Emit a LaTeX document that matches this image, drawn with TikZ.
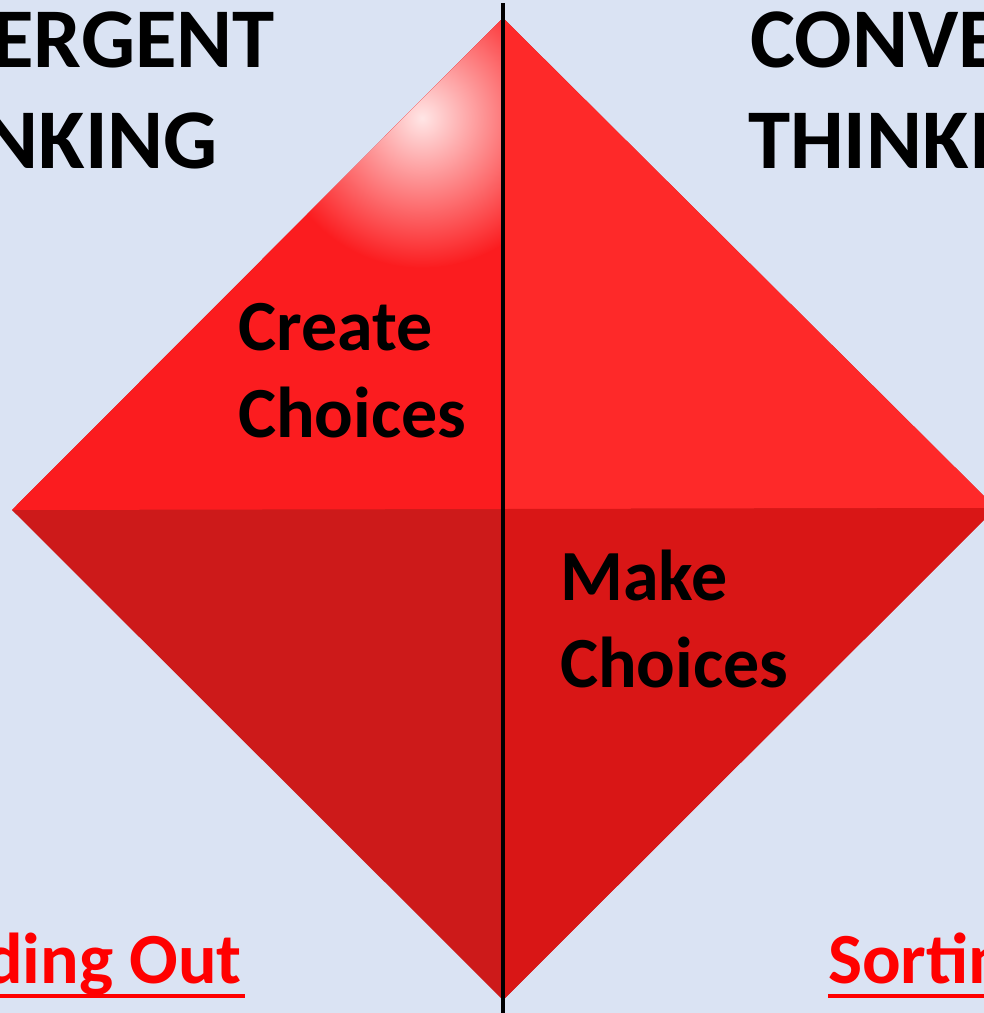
\documentclass[tikz,border=0pt]{standalone}
\usepackage{fontspec}
\setmainfont{Carlito}
\definecolor{bgblue}{HTML}{DAE3F3}
\definecolor{faceNW}{HTML}{FB1C1F}
\definecolor{faceNE}{HTML}{FE2929}
\definecolor{faceSW}{HTML}{CD1A1A}
\definecolor{faceSE}{HTML}{D91616}
\begin{document}
\begin{tikzpicture}[x=1pt,y=-1pt,
  title/.style={font=\fontsize{85}{102}\selectfont\bfseries,inner sep=0pt},
  choice/.style={font=\fontsize{72}{87}\selectfont\bfseries,inner sep=0pt},
  side/.style={font=\fontsize{72}{87}\selectfont\bfseries,text=red,inner sep=0pt}]
\useasboundingbox (0,0) rectangle (984,1013);
\clip (0,0) rectangle (984,1013);
\fill[bgblue] (0,0) rectangle (984,1013);

\coordinate (N) at (503,18);
\coordinate (W) at (12,510);
\coordinate (E) at (996,508);
\coordinate (S) at (503,1000);
\coordinate (C) at (503,509);

% diamond
\fill[faceSW] (N) -- (E) -- (S) -- (W) -- cycle;
\fill[faceNW] (C) -- (W) -- (N) -- cycle;
\fill[faceNE] (C) -- (N) -- (E) -- cycle;
\fill[faceSE] (C) -- (E) -- (S) -- cycle;
\begin{scope}
  \clip (C) -- (W) -- (N) -- cycle;
  \shade[inner color=white!90!red,outer color=faceNW] (422,118) circle (150);
\end{scope}

\coordinate (ltop) at (503,3);
\coordinate (lbot) at (503,1013);
\draw[line width=4pt] (ltop) -- (lbot);

\node[title,anchor=base east] (div1) at (275,67) {ERGENT};
\node[title,anchor=base east] (div2) at (218,168) {NKING};
\node[title,anchor=base west] (conv1) at (750,67) {CONVE};
\node[title,anchor=base west] (conv2) at (748,168) {THINKI};

\node[choice,anchor=base west] (create1) at (238,350) {Create};
\node[choice,anchor=base west] (create2) at (238,437) {Choices};
\node[choice,anchor=base west] (make1) at (560,600) {Make};
\node[choice,anchor=base west] (make2) at (560,687) {Choices};

\node[side,anchor=base east] (spread) at (242,983) {ding Out};
\node[side,anchor=base west] (sort) at (828,983) {Sortin};
\draw[red,line width=4pt] ([yshift=-13pt]spread.base west) -- ([xshift=3pt,yshift=-13pt]spread.base east);
\draw[red,line width=4pt] ([yshift=-13pt]sort.base west) -- ([yshift=-13pt]sort.base east);
\end{tikzpicture}
\end{document}
